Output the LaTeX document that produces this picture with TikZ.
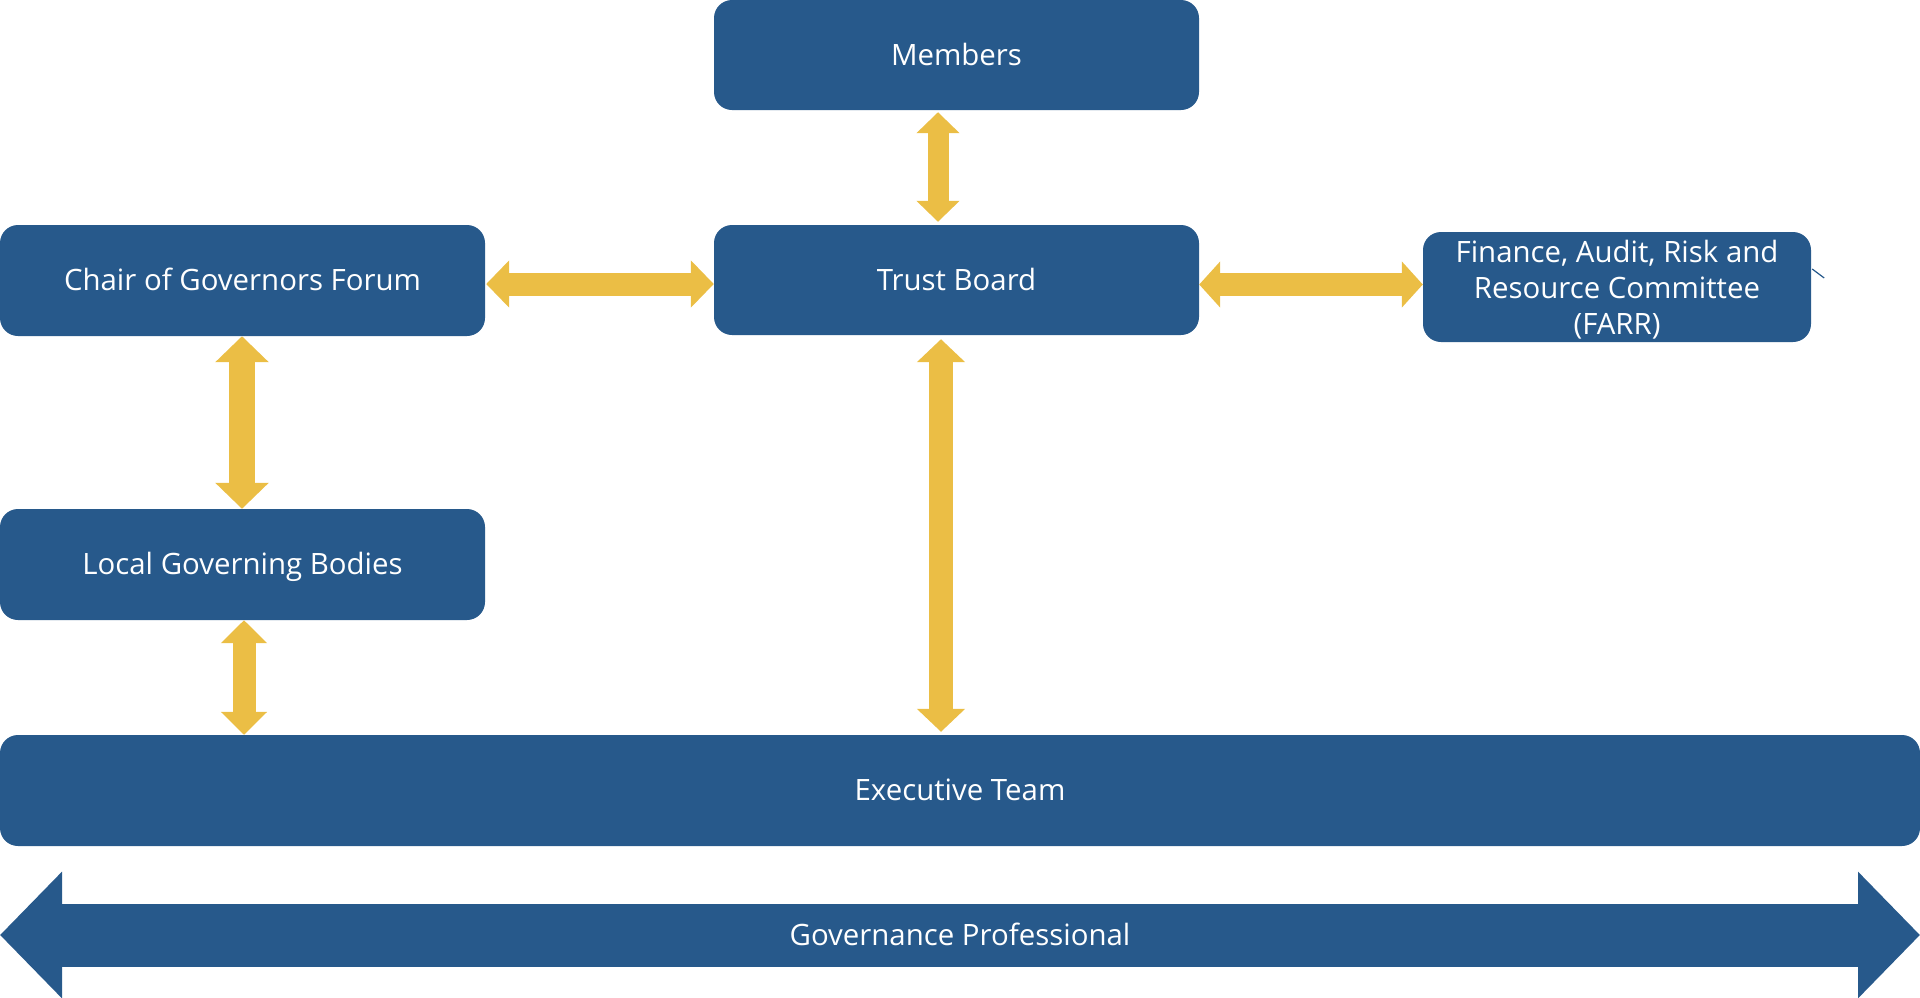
\documentclass[tikz,border=0pt]{standalone}
\usepackage{fontspec}
\setmainfont{Open Sans}
\usetikzlibrary{arrows.meta,calc}
\definecolor{boxblue}{RGB}{39,89,139}
\definecolor{arrowyellow}{RGB}{235,190,69}
\tikzset{
  govbox/.style={fill=boxblue, draw=none, rounded corners=18pt, text=white,
    font=\fontsize{29.4}{36}\selectfont, align=center, inner sep=0pt},
  oneline/.style={text height=24pt, text depth=4pt},
  boxtext/.style={text=white, font=\fontsize{29.4}{36}\selectfont, align=center, inner sep=0pt},
  ylink/.style n args={3}{draw=arrowyellow, line width=#1,
    {Triangle[length=#3,width=#2]}-{Triangle[length=#3,width=#2]}},
  govarrow/.style={draw=boxblue, line width=63pt,
    {Triangle[length=62pt,width=123pt]}-{Triangle[length=62pt,width=123pt]}},
}
\begin{document}
\begin{tikzpicture}[x=1pt,y=-1pt]
\useasboundingbox (0,0) rectangle (1920,997);
% boxes
\node[govbox, oneline, minimum width=485pt, minimum height=110pt] (members) at (956.5,55) {Members};
\node[govbox, oneline, minimum width=485pt, minimum height=110pt] (trust) at (956.5,280) {Trust Board};
\node[govbox, oneline, minimum width=485pt, minimum height=111pt] (chair) at (242.5,280.5) {Chair of Governors Forum};
\node[govbox, minimum width=388pt, minimum height=110pt] (farr) at (1617,287) {};
\node[boxtext] (farrtext) at ($(farr.center)+(0,3)$) {Finance, Audit, Risk and\\Resource Committee\\(FARR)};
\node[govbox, oneline, minimum width=485pt, minimum height=111pt] (lgb) at (242.5,564.5) {Local Governing Bodies};
\node[govbox, oneline, minimum width=1920pt, minimum height=111pt] (exec) at (960,790.5) {Executive Team};
% governance professional arrow
\coordinate (govL) at (0,935);
\coordinate (govR) at (1920,935);
\draw[govarrow] (govL) -- (govR);
\node[boxtext, oneline] (gov) at (960,935) {Governance Professional};
% x / y guides for connectors
\coordinate (xm) at (938,0);
\coordinate (xt) at (941,0);
\coordinate (xc) at (242,0);
\coordinate (xl) at (244,0);
\coordinate (yc) at (0,284);
\coordinate (yf) at (0,284.5);
% yellow connectors
\draw[ylink={21pt}{42pt}{21pt}] ($(members.south -| xm)+(0,2)$) -- ($(trust.north -| xm)+(0,-3)$);
\draw[ylink={23pt}{46pt}{23pt}] ($(chair.east |- yc)+(1,0)$) -- (trust.west |- yc);
\draw[ylink={23pt}{45pt}{21pt}] (trust.east |- yf) -- (farr.west |- yf);
\draw[ylink={26pt}{52pt}{26pt}] (chair.south -| xc) -- (lgb.north -| xc);
\draw[ylink={24pt}{47pt}{23pt}] ($(trust.south -| xt)+(0,4)$) -- ($(exec.north -| xt)+(0,-3)$);
\draw[ylink={23pt}{45pt}{23pt}] (lgb.south -| xl) -- (exec.north -| xl);
% small stray tick beside FARR
\draw[boxblue, line width=1.2pt] ($(farr.east)+(1,-18)$) -- ($(farr.east)+(13,-9)$);
\end{tikzpicture}
\end{document}
